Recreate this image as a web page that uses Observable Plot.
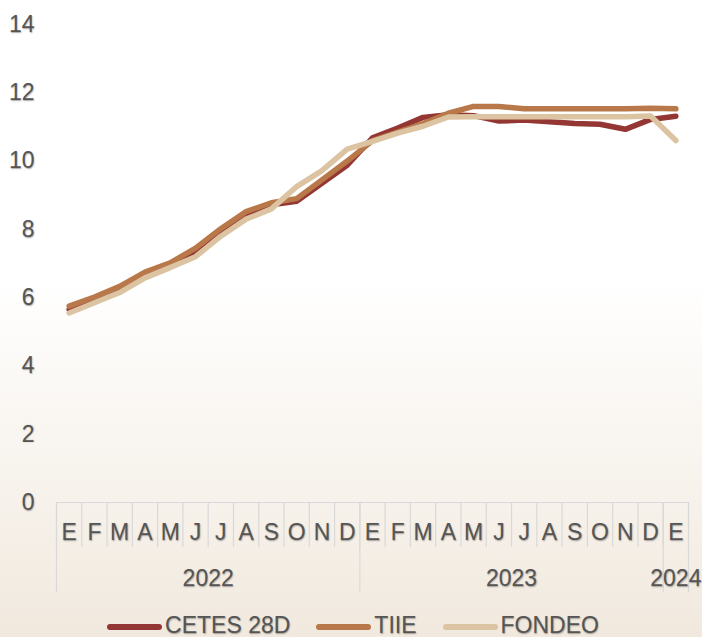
<!DOCTYPE html>
<html>
<head>
<meta charset="utf-8">
<script src="https://cdn.jsdelivr.net/npm/d3@7"></script>
<script src="https://cdn.jsdelivr.net/npm/@observablehq/plot@0.6"></script>
<style>
  html, body { margin: 0; padding: 0; }
  html { background: #f1e9de; }
  body { width: 702px; height: 637px; overflow: hidden; background: linear-gradient(to bottom, #ffffff 0px, #ffffff 280px, #f1e9de 637px); font-family: "Liberation Sans", Arial, Helvetica, sans-serif; }
  svg text { text-shadow: 0.6px 0.9px 1.4px rgba(0,0,0,0.35); }
  #legend { display: flex; justify-content: center; align-items: center; padding-top: 9px; padding-left: 4px; height: 23px; }
  .item { display: flex; align-items: center; margin: 0 13px; color: #555; font-size: 23px; line-height: 23px; height: 23px; text-shadow: 0.6px 0.9px 1.4px rgba(0,0,0,0.35); }
  .sw { width: 55px; height: 6px; border-radius: 3px; margin-right: 3px; margin-top: 3px; }
</style>
</head>
<body>
<div id="chart"></div>
<div id="legend"></div>
<script>
const months = ["E","F","M","A","M","J","J","A","S","O","N","D","E","F","M","A","M","J","J","A","S","O","N","D","E"];
const years = ["2022", "2023", "2024"];
const yearCenters = [5.5, 17.5, 24];
const yearBounds = [-0.5, 11.5, 23.5, 24.5];
const yTicks = [0, 2, 4, 6, 8, 10, 12, 14];

const seriesNames = ["CETES 28D", "TIIE", "FONDEO"];
const seriesColors = ["#943634", "#b8784a", "#dcc4a2"];

const cetes  = [5.65, 5.92, 6.22, 6.65, 6.95, 7.35, 7.95, 8.45, 8.72, 8.82, 9.35, 9.88, 10.68, 10.97, 11.28, 11.36, 11.33, 11.17, 11.2, 11.15, 11.1, 11.08, 10.93, 11.22, 11.31];
const tiie   = [5.75, 6.02, 6.33, 6.75, 7.02, 7.45, 8.02, 8.52, 8.78, 8.9, 9.45, 10.0, 10.6, 10.85, 11.1, 11.4, 11.6, 11.6, 11.53, 11.53, 11.53, 11.53, 11.53, 11.55, 11.53];
const fondeo = [5.55, 5.85, 6.15, 6.58, 6.88, 7.2, 7.8, 8.3, 8.6, 9.25, 9.72, 10.35, 10.58, 10.82, 11.02, 11.29, 11.3, 11.3, 11.3, 11.3, 11.3, 11.3, 11.3, 11.32, 10.6];

const series = [cetes, tiie, fondeo];
const monthIdx = d3.range(months.length);
const monthBounds = d3.range(months.length + 1).map(i => i - 0.5);

const textColor = "#555555";
const sepColor = "#d9d9d9";

const chart = Plot.plot({
  width: 702,
  height: 605,
  marginLeft: 56,
  marginRight: 14,
  marginTop: 24,
  marginBottom: 103,
  style: { background: "transparent", fontFamily: "'Liberation Sans', Arial, Helvetica, sans-serif", overflow: "visible" },
  x: { domain: [-0.5, months.length - 0.5], label: null },
  y: { domain: [0, 14], label: null },
  marks: [
    Plot.axisY(yTicks, { tickSize: 0, tickPadding: 22, fontSize: 23, color: textColor, label: null }),
    Plot.ruleY([0], { stroke: sepColor, strokeWidth: 1.2 }),
    Plot.axisX(monthBounds, { tickSize: 45, stroke: sepColor, strokeWidth: 1.2, tickFormat: () => "", label: null }),
    Plot.axisX(yearBounds, { tickSize: 90, stroke: sepColor, strokeWidth: 1.2, tickFormat: () => "", label: null }),
    Plot.axisX(monthIdx, { tickSize: 0, tickPadding: 21, fontSize: 23, color: textColor, tickFormat: i => months[i], label: null }),
    Plot.axisX(yearCenters, { tickSize: 0, tickPadding: 67, fontSize: 23, color: textColor, tickFormat: d => years[yearCenters.indexOf(d)], label: null }),
    ...series.map((s, k) => Plot.lineY(s, {
      x: (d, i) => i,
      y: d => d,
      stroke: seriesColors[k],
      strokeWidth: 5.5,
      strokeLinejoin: "round",
      strokeLinecap: "round"
    }))
  ]
});
document.getElementById("chart").appendChild(chart);

const legend = document.getElementById("legend");
seriesNames.forEach((name, k) => {
  const item = document.createElement("div");
  item.className = "item";
  const sw = document.createElement("span");
  sw.className = "sw";
  sw.style.background = seriesColors[k];
  const label = document.createElement("span");
  label.textContent = name;
  item.appendChild(sw);
  item.appendChild(label);
  legend.appendChild(item);
});
</script>
</body>
</html>
